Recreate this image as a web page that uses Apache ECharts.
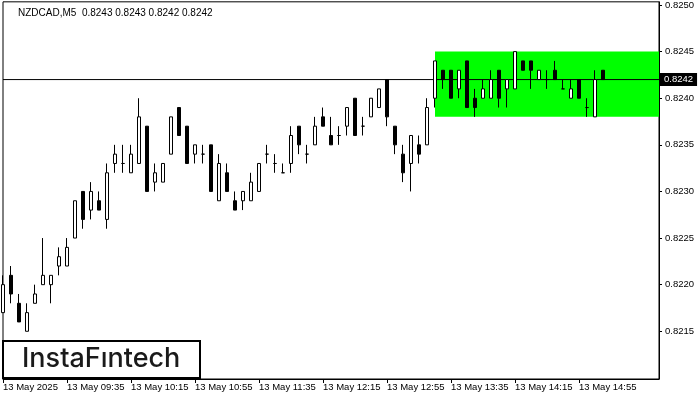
<!DOCTYPE html>
<html><head><meta charset="utf-8">
<script src="https://cdn.jsdelivr.net/npm/echarts@6/dist/echarts.min.js"></script>
<style>html,body{margin:0;padding:0;background:#fff}#c{width:700px;height:400px}</style>
</head><body><div id="c"></div>
<script>
const symbolName = 'NZDCAD,M5';
const lastOHLC = ['0.8243', '0.8243', '0.8242', '0.8242'];
const opens = [0.8217,0.8221,0.8218,0.8215,0.8218,0.8220,0.8220,0.8222,0.8222,0.8225,
0.8230,0.8228,0.8229,0.8227,0.8233,0.8233,0.8232,0.8233,0.8237,0.8231,
0.8231,0.8234,0.8239,0.8237,0.8234,0.8234,0.8235,0.8229,0.8232,0.8229,
0.8229,0.8229,0.8230,0.8234,0.8233,0.8232,0.8233,0.8237,0.8234,0.8235,
0.8238,0.8236,0.8236,0.8237,0.8240,0.8237,0.8238,0.8239,0.8242,0.8237,
0.8234,0.8233,0.8235,0.8235,0.8240,0.8243,0.8243,0.8241,0.8244,0.8240,
0.8240,0.8240,0.8243,0.8241,0.8241,0.8244,0.8244,0.8242,0.8242,0.8243,
0.8241,0.8240,0.8242,0.8239,0.8238,0.8243];
const closes = [0.8220,0.8219,0.8216,0.8217,0.8219,0.8221,0.8221,0.8223,0.8224,0.8229,
0.8227,0.8230,0.8228,0.8232,0.8234,0.8233,0.8234,0.8238,0.8230,0.8232,
0.8233,0.8238,0.8236,0.8233,0.8235,0.8234,0.8230,0.8233,0.8230,0.8228,
0.8230,0.8231,0.8233,0.8234,0.8233,0.8232,0.8236,0.8235,0.8234,0.8237,
0.8237,0.8235,0.8236,0.8239,0.8236,0.8237,0.8240,0.8241,0.8238,0.8235,
0.8232,0.8236,0.8234,0.8239,0.8244,0.8242,0.8240,0.8243,0.8239,0.8239,
0.8241,0.8242,0.8240,0.8242,0.8245,0.8243,0.8243,0.8243,0.8242,0.8242,
0.8241,0.8241,0.8240,0.8239,0.8242,0.8242];
const lows = [0.8217,0.8218,0.8216,0.8215,0.8218,0.8220,0.8218,0.8221,0.8222,0.8225,
0.8226,0.8227,0.8228,0.8226,0.8232,0.8232,0.8232,0.8233,0.8230,0.8230,
0.8231,0.8234,0.8236,0.8233,0.8233,0.8233,0.8230,0.8229,0.8230,0.8228,
0.8228,0.8229,0.8230,0.8233,0.8232,0.8232,0.8232,0.8234,0.8233,0.8235,
0.8237,0.8235,0.8235,0.8236,0.8236,0.8236,0.8238,0.8239,0.8237,0.8234,
0.8231,0.8230,0.8233,0.8235,0.8239,0.8241,0.8240,0.8240,0.8239,0.8238,
0.8240,0.8240,0.8239,0.8239,0.8241,0.8243,0.8241,0.8242,0.8241,0.8242,
0.8241,0.8240,0.8240,0.8238,0.8238,0.8242];
const highs = [0.8221,0.8222,0.8219,0.8218,0.8220,0.8225,0.8221,0.8224,0.8225,0.8229,
0.8230,0.8231,0.8230,0.8233,0.8235,0.8235,0.8235,0.8240,0.8237,0.8233,
0.8233,0.8238,0.8239,0.8237,0.8235,0.8235,0.8235,0.8234,0.8233,0.8230,
0.8230,0.8232,0.8233,0.8235,0.8234,0.8233,0.8237,0.8237,0.8235,0.8238,
0.8239,0.8238,0.8237,0.8239,0.8240,0.8238,0.8240,0.8241,0.8242,0.8237,
0.8235,0.8236,0.8236,0.8240,0.8244,0.8243,0.8243,0.8243,0.8244,0.8241,
0.8242,0.8243,0.8243,0.8242,0.8245,0.8244,0.8244,0.8243,0.8243,0.8244,
0.8242,0.8242,0.8242,0.8240,0.8243,0.8243];
const xTickLabels = ['13 May 2025','13 May 09:35','13 May 10:15','13 May 10:55','13 May 11:35',
'13 May 12:15','13 May 12:55','13 May 13:35','13 May 14:15','13 May 14:55'];
const yTicks = [0.8215,0.8220,0.8225,0.8230,0.8235,0.8240,0.8245,0.8250];
const currentPrice = 0.8242;
const rectLow = 0.8238, rectHigh = 0.8245, rectStartBar = 54;
const totalSlots = 83;
const barsPerLabel = 8;

const cats = Array.from({length: totalSlots}, (_, i) => String(i));
const ohlc = opens.map((o, i) => [o, closes[i], lows[i], highs[i]]);
const priceLine = cats.map(() => currentPrice);
const FONT = "'Liberation Sans', Arial, sans-serif";
const tickShow = (i) => i % barsPerLabel === 0 && i / barsPerLabel < xTickLabels.length;

const chart = echarts.init(document.getElementById('c'), null, {renderer: 'canvas'});
chart.setOption({
  animation: false,
  backgroundColor: '#fff',
  grid: {left: 3, right: 41, top: 0, bottom: 21, show: true, borderColor: '#000', borderWidth: 1, backgroundColor: 'transparent'},
  xAxis: {
    type: 'category', data: cats, boundaryGap: false,
    axisLine: {show: true, lineStyle: {color: '#000', width: 1}},
    axisTick: {show: true, interval: tickShow, length: 4, lineStyle: {color: '#000'}},
    axisLabel: {interval: tickShow, formatter: (v, i) => xTickLabels[i / barsPerLabel] || '',
      align: 'left', margin: 3, color: '#000', fontFamily: FONT, fontSize: 9.5},
    splitLine: {show: false}
  },
  yAxis: {
    type: 'value', position: 'right', min: 0.820988, max: 0.825034, scale: true,
    axisLine: {show: true, lineStyle: {color: '#000', width: 1}},
    axisTick: {show: true, customValues: yTicks, length: 3, lineStyle: {color: '#000'}},
    axisLabel: {customValues: yTicks, formatter: v => v.toFixed(4), margin: 6,
      color: '#000', fontFamily: FONT, fontSize: 9.5, align: 'left'},
    splitLine: {show: false}
  },
  series: [{
    type: 'line', data: priceLine, z: 2, silent: true, symbol: 'none', showSymbol: false, clip: false,
    lineStyle: {color: '#000', width: 1},
    endLabel: {show: true, distance: 1, formatter: () => currentPrice.toFixed(4),
      backgroundColor: '#000', color: '#fff', padding: [2, 4, 1, 4], fontFamily: FONT, fontSize: 9.5},
    markArea: {
      z: 1, silent: true,
      itemStyle: {color: '#00ff00', opacity: 1},
      data: [[{xAxis: String(rectStartBar), yAxis: rectLow}, {xAxis: String(totalSlots - 1), yAxis: rectHigh}]]
    }
  }, {
    type: 'candlestick', data: ohlc, barWidth: 4, z: 10, clip: true,
    itemStyle: {color: '#fff', color0: '#000', borderColor: '#000', borderColor0: '#000', borderColorDoji: '#000', borderWidth: 1}
  }],
  graphic: [
    {type: 'text', left: 18, top: 8, z: 20,
     style: {text: symbolName + '  ' + lastOHLC.join(' '), fill: '#000', font: '10px ' + FONT}},
    {type: 'rect', z: 20, shape: {x: 3, y: 341, width: 197, height: 37},
     style: {fill: '#fff', stroke: '#000', lineWidth: 2}},
    {type: 'text', z: 21, x: 22, y: 359,
     style: {text: 'InstaF\u0131ntech', fill: '#1a1a1a', font: '500 27px Inter, sans-serif', textVerticalAlign: 'middle'}}
  ]
});
</script></body></html>
